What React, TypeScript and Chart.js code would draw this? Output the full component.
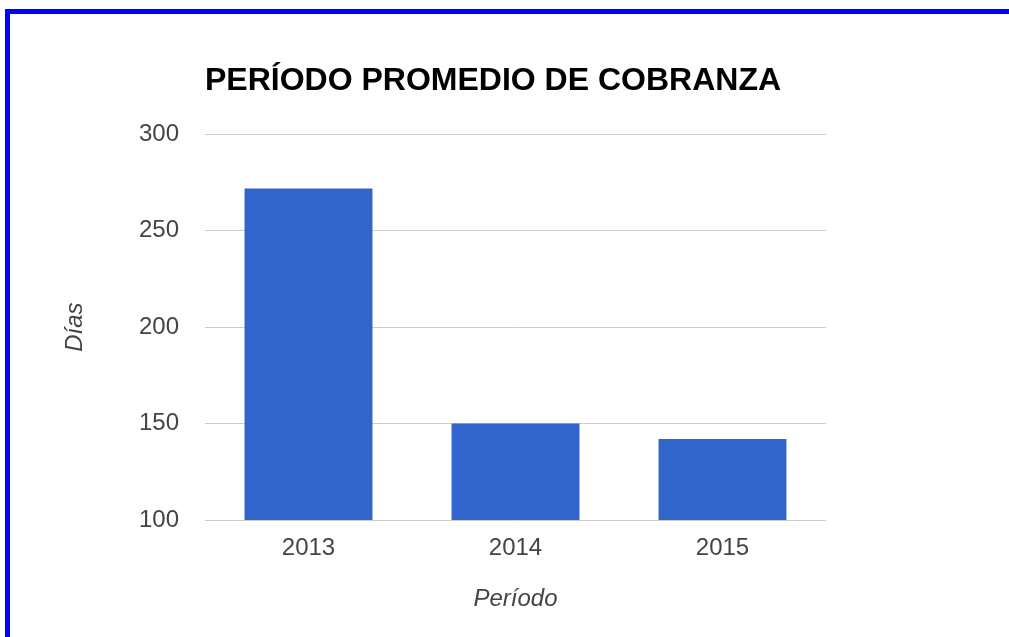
import React, { useEffect, useRef } from "react";
import { Chart, registerables } from "chart.js";

Chart.register(...registerables);

const chartTitle = "PERÍODO PROMEDIO DE COBRANZA";
const categories = ["2013", "2014", "2015"];
const seriesValues = [272, 150, 142];
const yTitle = "Días";
const xTitle = "Período";
const yMin = 100;
const yMax = 300;
const yStep = 50;

const FONT = "Arial, 'Liberation Sans', sans-serif";

export default function App() {
  const ref = useRef<HTMLCanvasElement | null>(null);

  useEffect(() => {
    if (!ref.current) return;
    const chart = new Chart(ref.current, {
      type: "bar",
      data: {
        labels: categories,
        datasets: [
          {
            label: yTitle,
            data: seriesValues,
            backgroundColor: "#3366cc",
            borderWidth: 0,
            categoryPercentage: 1,
            barPercentage: 0.618,
          },
        ],
      },
      options: {
        responsive: false,
        animation: false,
        layout: { padding: { left: 0, right: 183, top: 0, bottom: 0 } },
        plugins: {
          legend: { display: false },
          tooltip: { enabled: false },
          title: {
            display: true,
            text: chartTitle,
            align: "start",
            fullSize: false,
            color: "#000000",
            font: { family: FONT, size: 32, weight: "bold" },
            padding: { top: 48, bottom: 34 },
          },
        },
        scales: {
          x: {
            grid: { display: false, drawTicks: false },
            border: { display: false },
            ticks: {
              color: "#444444",
              font: { family: FONT, size: 24 },
              padding: 14,
            },
            title: {
              display: true,
              text: xTitle,
              color: "#444444",
              font: { family: FONT, size: 24, style: "italic" },
              padding: { top: 0, bottom: 23 },
            },
            afterFit: (scale: any) => {
              scale.height = 117;
            },
          },
          y: {
            min: yMin,
            max: yMax,
            grid: { color: "#cccccc", lineWidth: 1, drawTicks: false },
            border: { display: false },
            ticks: {
              stepSize: yStep,
              color: "#444444",
              font: { family: FONT, size: 24 },
              padding: 26,
            },
            title: {
              display: true,
              text: yTitle,
              color: "#444444",
              font: { family: FONT, size: 24, style: "italic" },
              padding: { top: 51, bottom: 0 },
            },
            afterFit: (scale: any) => {
              scale.width = 195;
            },
          },
        },
      },
    });
    return () => chart.destroy();
  }, []);

  return (
    <div style={{ position: "absolute", left: 0, top: 0, width: 1009, height: 637, overflow: "hidden", background: "#ffffff" }}>
      <div
        style={{
          position: "absolute",
          left: 5,
          top: 9,
          width: 1004,
          height: 628,
          boxSizing: "border-box",
          borderTop: "5px solid #0000ff",
          borderLeft: "5px solid #0000ff",
        }}
      />
      <canvas
        ref={ref}
        width={999}
        height={623}
        style={{ position: "absolute", left: 10, top: 14, display: "block" }}
      />
    </div>
  );
}
